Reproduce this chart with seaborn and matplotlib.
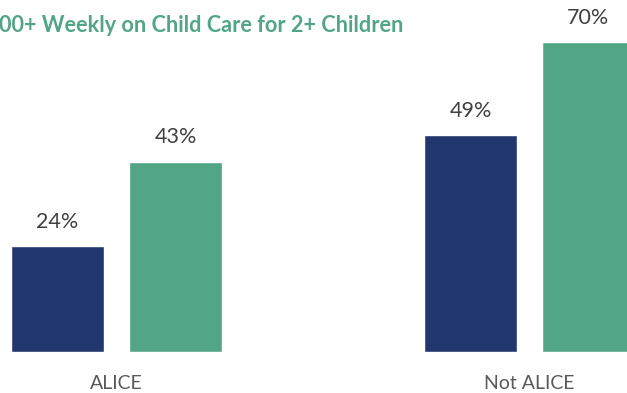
import matplotlib
matplotlib.use("Agg")
import matplotlib.pyplot as plt
import seaborn as sns
import pandas as pd

categories = ["ALICE", "Not ALICE"]
series_names = ["Series A", "Series B"]
series_a = [24, 49]
series_b = [43, 70]
title_text = "00+ Weekly on Child Care for 2+ Children"

navy = "#22376E"
green = "#52A685"

df = pd.DataFrame({
    "category": categories * 2,
    "series": [series_names[0]] * 2 + [series_names[1]] * 2,
    "value": series_a + series_b,
})

sns.set_theme(style="white")
plt.rcParams["font.family"] = ["Lato", "DejaVu Sans"]

fig = plt.figure(figsize=(6.27, 3.93), dpi=100)
ax = fig.add_axes([0, 0, 1, 1])
sns.barplot(data=df, x="category", y="value", hue="series", order=categories,
            hue_order=series_names, palette=[navy, green], width=0.5714,
            gap=0.212, legend=False, ax=ax, saturation=1)

ax.set_xlim(-0.2821, 1.2361)
ax.set_ylim(-41 / 4.43, 352 / 4.43)
ax.axis("off")

for container in ax.containers:
    for patch in container:
        h = patch.get_height()
        ax.annotate(f"{h:.0f}%", (patch.get_x() + patch.get_width() / 2, h),
                    xytext=(0, 17.3), textcoords="offset points",
                    ha="center", va="center", fontsize=15.5, color="#404040")

for i, c in enumerate(categories):
    ax.text(i, -7.0, c, ha="center", va="center", fontsize=14, color="#595959")

fig.text(-0.002, 1 - 25 / 393, title_text, ha="left", va="center",
         fontsize=15.6, fontweight="bold", color=green)

fig.savefig("out.png", dpi=100)
